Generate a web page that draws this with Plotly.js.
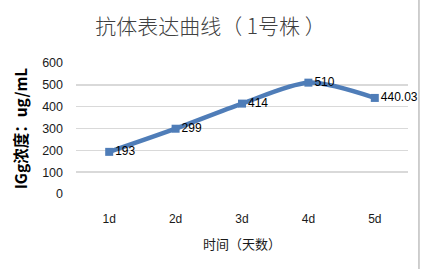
<!DOCTYPE html>
<html><head><meta charset="utf-8">
<script src="https://cdn.plot.ly/plotly-3.0.1.min.js"></script>
<style>html,body{margin:0;padding:0;background:#fff}#c{width:421px;height:269px}</style>
</head><body><div id="c"></div>
<script>
const categories = ['1d','2d','3d','4d','5d'];
const values = [193, 299, 414, 510, 440.03];
const labels = ['193','299','414','510','440.03'];

const trace = {
  x: categories, y: values, type: 'scatter', mode: 'lines+markers+text',
  line: {color: '#4f7db8', width: 4.5, shape: 'spline', smoothing: 0.8},
  marker: {symbol: 'square', size: 8, color: '#4f7db8'},
  text: labels, textposition: 'middle right',
  textfont: {family: 'Liberation Sans, Arial, sans-serif', size: 12, color: '#000'},
  cliponaxis: false, hoverinfo: 'none'
};
const layout = {
  width: 421, height: 269,
  margin: {l: 76, r: 13, t: 63, b: 75},
  paper_bgcolor: '#fff', plot_bgcolor: '#fff',
  showlegend: false,
  title: {text: '抗体表达曲线（ 1号株 ）', x: 0.5, xanchor: 'center', y: 0.9, yanchor: 'middle',
          font: {family: 'Noto Sans CJK SC, sans-serif', size: 21, color: '#404040', weight: 300}},
  xaxis: {type: 'category', range: [-0.5, 4.5], showgrid: false, zeroline: false, showline: false, ticks: '',
          ticklabelstandoff: 16,
          tickfont: {family: 'Liberation Sans, Arial, sans-serif', size: 12, color: '#1a1a1a'},
          title: {text: '时间（天数）', standoff: 14, font: {family: 'Noto Sans CJK SC, serif', size: 13, color: '#1a1a1a'}}},
  yaxis: {range: [0, 600], dtick: 100, tick0: 0, showgrid: true, gridcolor: '#d9d9d9', gridwidth: 1.5,
          zeroline: false, showline: false, ticks: '', ticklabelstandoff: 12,
          tickfont: {family: 'Liberation Sans, Arial, sans-serif', size: 12.5, color: '#1a1a1a'},
          title: {text: '<b>IGg浓度：ug/mL</b>', standoff: 10, font: {family: 'Noto Sans CJK SC, sans-serif', size: 15.5, color: '#000'}}},
  shapes: [{type: 'line', xref: 'paper', yref: 'paper', x0: 1.033, x1: 1.033, y0: -0.65, y1: 1.6,
            line: {color: '#bfbfbf', width: 1.5}}]
};
Plotly.newPlot('c', [trace], layout, {displayModeBar: false, staticPlot: true});
</script></body></html>
